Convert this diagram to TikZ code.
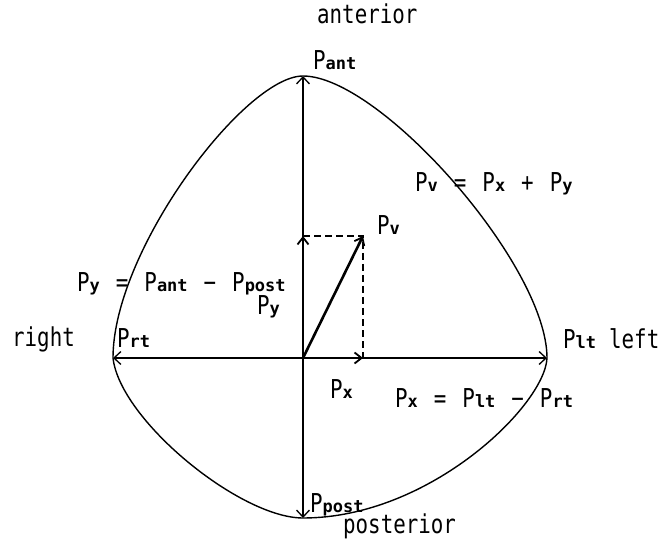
\documentclass[tikz,border=0pt]{standalone}
\usepackage{fontspec}
\newfontfamily\mainmono[FakeStretch=0.8]{DejaVu Sans Mono}
\newfontfamily\submono{DejaVu Sans Mono}
\usetikzlibrary{arrows.meta}
\newcommand{\sbx}[1]{{\submono\bfseries\fontsize{17}{17}\selectfont #1}}
\newcommand{\gap}{\hspace{16pt}}
\tikzset{
  lbl/.style={anchor=base west, inner sep=0pt, font=\mainmono\fontsize{26}{26}\selectfont},
  axisarrow/.style={line width=1.3pt, -{Straight Barb[length=7pt,width=13pt,line width=1.3pt]}},
  vecarrow/.style={line width=2.6pt, -{Straight Barb[length=7pt,width=11pt,line width=1.8pt]}},
  dashline/.style={line width=1.2pt, dash pattern=on 7pt off 4pt},
  outline/.style={line width=1.4pt}
}
\begin{document}
\begin{tikzpicture}[x=1pt,y=-1pt]
\useasboundingbox (0,0) rectangle (659,540);
\fill[white] (0,0) rectangle (659,540);
% key points
\coordinate (O) at (303,358);
\coordinate (top) at (303,76);
\coordinate (bot) at (303,518);
\coordinate (L) at (113,358);
\coordinate (R) at (547,358);
\coordinate (vy) at (303,236);
\coordinate (vx) at (363,358);
\coordinate (vv) at (363,236);
% outline
\draw[outline] (top) .. controls (380,76) and (547,265) .. (R)
  .. controls (545,405) and (430,518) .. (bot)
  .. controls (240,518) and (120,420) .. (L)
  .. controls (113,250) and (245,76) .. cycle;
% axes
\draw[axisarrow] (O) -- (top);
\draw[axisarrow] (O) -- (bot);
\draw[axisarrow] (O) -- (L);
\draw[axisarrow] (O) -- (R);
% dashed rectangle
\draw[dashline] (vy) -- (vv) -- (vx);
% vectors
\draw[vecarrow] (O) -- (vy);
\draw[vecarrow] (O) -- (vx);
\draw[vecarrow] (O) -- (vv);
% labels
\node[lbl] (ant) at (317,24) {anterior};
\node[lbl] (pant) at (313,70) {P\sbx{ant}};
\node[lbl] (pveq) at (415,192) {P\sbx{v}\gap=\gap P\sbx{x}\gap+\gap P\sbx{y}};
\node[lbl] (pv) at (377,235) {P\sbx{v}};
\node[lbl] (pyeq) at (77,291) {P\sbx{y}\gap=\gap P\sbx{ant}\gap−\gap P\sbx{post}};
\node[lbl] (py) at (257,314) {P\sbx{y}};
\node[lbl] (right) at (12,346) {right};
\node[lbl] (prt) at (117,347) {P\sbx{rt}};
\node[lbl] (plt) at (563,348) {P\sbx{lt}\hspace{13pt}left};
\node[lbl] (px) at (330,398) {P\sbx{x}};
\node[lbl] (pxeq) at (395,407) {P\sbx{x}\gap=\gap P\sbx{lt}\gap−\gap P\sbx{rt}};
\node[lbl] (ppost) at (310,512) {P\sbx{post}};
\node[lbl] (post) at (343,533) {posterior};
\end{tikzpicture}
\end{document}
